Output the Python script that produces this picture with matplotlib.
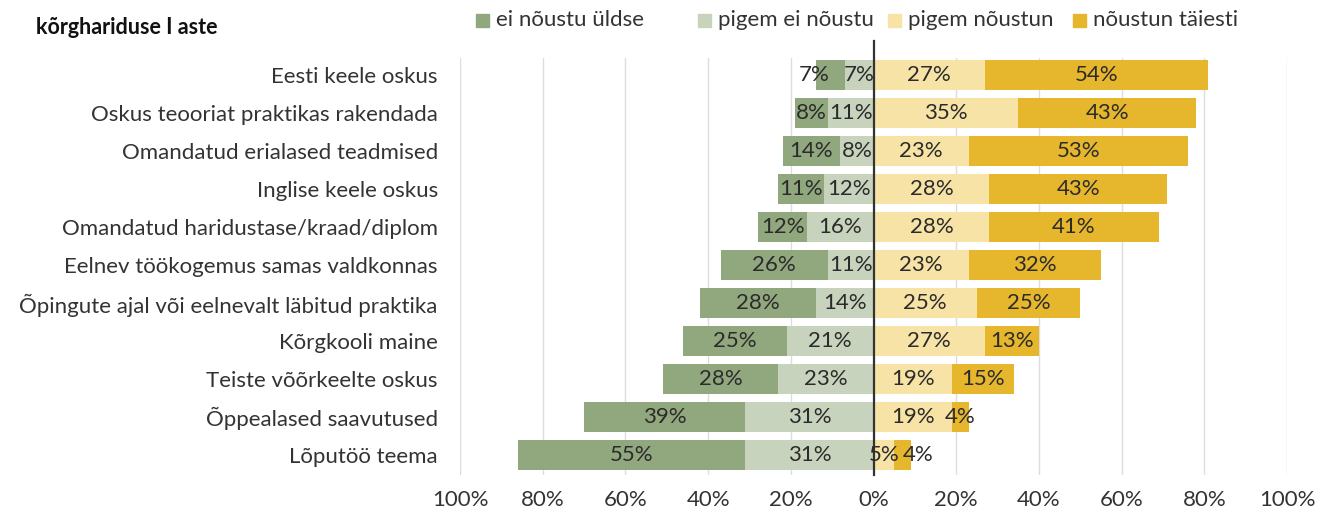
import numpy as np
import matplotlib.pyplot as plt
from matplotlib.patches import Rectangle

plt.rcParams['font.family'] = ['Lato', 'DejaVu Sans']

title = "kõrghariduse I aste"

categories = [
    "Eesti keele oskus",
    "Oskus teooriat praktikas rakendada",
    "Omandatud erialased teadmised",
    "Inglise keele oskus",
    "Omandatud haridustase/kraad/diplom",
    "Eelnev töökogemus samas valdkonnas",
    "Õpingute ajal või eelnevalt läbitud praktika",
    "Kõrgkooli maine",
    "Teiste võõrkeelte oskus",
    "Õppealased saavutused",
    "Lõputöö teema",
]

series_names = ["ei nõustu üldse", "pigem ei nõustu", "pigem nõustun", "nõustun täiesti"]

ei_noustu_yldse = [7, 8, 14, 11, 12, 26, 28, 25, 28, 39, 55]
pigem_ei_noustu = [7, 11, 8, 12, 16, 11, 14, 21, 23, 31, 31]
pigem_noustun = [27, 35, 23, 28, 28, 23, 25, 27, 19, 19, 5]
noustun_taiesti = [54, 43, 53, 43, 41, 32, 25, 13, 15, 4, 4]

ticks = [-100, -80, -60, -40, -20, 0, 20, 40, 60, 80, 100]

colors = ["#91A77E", "#C8D3BD", "#F6E3A5", "#E6B62C"]
FS = 16

fig = plt.figure(figsize=(13.27, 5.14), dpi=100)
ax = fig.add_axes([460 / 1327, 39 / 514, 827 / 1327, 417 / 514])

y = np.arange(len(categories))
h = 0.79
d1 = np.array(ei_noustu_yldse)
d2 = np.array(pigem_ei_noustu)
a1 = np.array(pigem_noustun)
a2 = np.array(noustun_taiesti)

# negative side: light green next to zero, dark green outside
segs = [
    (-(d1 + d2), d1, colors[0], d1),
    (-d2, d2, colors[1], d2),
    (np.zeros_like(a1), a1, colors[2], a1),
    (a1, a2, colors[3], a2),
]
labels = []
for left, width, col, vals in segs:
    ax.barh(y, width, left=left, height=h, color=col, zorder=2)
    row = []
    for yi, l, w, v in zip(y, left, width, vals):
        t = ax.text(l + w / 2, yi, f"{v}%", ha="center", va="center",
                    fontsize=FS, color="#2b2b2b", zorder=4)
        row.append(t)
    labels.append(row)

ax.axvline(0, color="#333333", lw=1.6, zorder=3, ymin=0, ymax=1.04, clip_on=False)

ax.set_xlim(-100, 100)
ax.set_ylim(10.53, -0.45)
ax.set_xticks(ticks)
ax.set_xticklabels([f"{abs(t)}%" for t in ticks], fontsize=FS, color="#333333")
ax.set_yticks(y)
ax.set_yticklabels(categories, fontsize=FS, color="#333333")
ax.tick_params(axis="both", length=0)
ax.tick_params(axis="y", pad=16)
ax.tick_params(axis="x", pad=11)
ax.grid(axis="x", color="#DDDDDD", lw=1, zorder=0)
for s in ax.spines.values():
    s.set_visible(False)

# push outer labels away from inner ones where they collide
fig.canvas.draw()
r = fig.canvas.get_renderer()
inv = ax.transData.inverted()
for i in range(len(categories)):
    inner = labels[1][i].get_window_extent(r)
    outer = labels[0][i].get_window_extent(r)
    if outer.x1 + 2 > inner.x0:
        shift = outer.x1 + 14 - inner.x0
        cx = (outer.x0 + outer.x1) / 2 - shift
        labels[0][i].set_x(inv.transform((cx, 0))[0])
    inner = labels[2][i].get_window_extent(r)
    outer = labels[3][i].get_window_extent(r)
    if inner.x1 + 2 > outer.x0:
        shift = inner.x1 + 4 - outer.x0
        cx = (outer.x0 + outer.x1) / 2 + shift
        labels[3][i].set_x(inv.transform((cx, 0))[0])

fig.text(36 / 1327, 1 - 28 / 514, title, fontsize=15.5, fontweight="bold",
         va="center", ha="left", color="#111111")

# legend
leg_x = [476, 698, 888, 1073]
for xs, name, col in zip(leg_x, series_names, colors):
    fig.patches.append(Rectangle((xs / 1327, 1 - 27 / 514), 13 / 1327, 13 / 514,
                                 transform=fig.transFigure, color=col))
    fig.text((xs + 20) / 1327, 1 - 20 / 514, name, fontsize=FS,
             va="center", ha="left", color="#333333")

fig.savefig("out.png", dpi=100)
